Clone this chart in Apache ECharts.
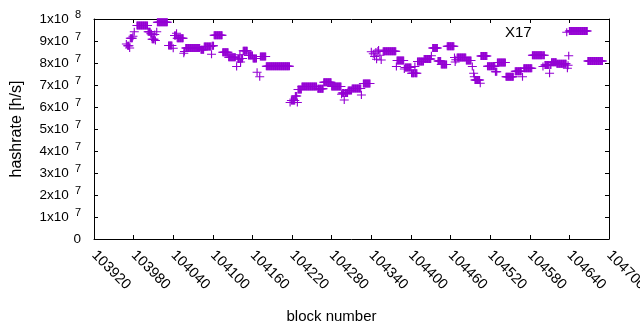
<!DOCTYPE html>
<html><head><meta charset="utf-8">
<script src="https://cdn.jsdelivr.net/npm/echarts@6/dist/echarts.min.js"></script>
<style>html,body{margin:0;padding:0;background:#fff}#c{width:640px;height:330px}</style>
</head><body><div id="c"></div>
<script>
const seriesName = 'X17';
const xAxisTitle = 'block number';
const yAxisTitle = 'hashrate [h/s]';
const xMin = 103920, xMax = 104700, xStep = 60;
const yTickLabels = ['0','1x10^7','2x10^7','3x10^7','4x10^7','5x10^7','6x10^7','7x10^7','8x10^7','9x10^7','1x10^8'];
// Runs of consecutive blocks sharing one hashrate value (first block, last block, hashrate)
const runStart = [103969,103971,103974,103975,103979,103981,103985,104002,104006,104008,104012,104013,104015,104016,104033,104040,104042,104045,104046,104056,104057,104059,104082,104087,104098,104099,104102,104115,104124,104136,104138,104141,104142,104143,104146,104154,104161,104167,104171,104172,104181,104217,104219,104225,104228,104229,104235,104259,104268,104280,104295,104296,104299,104300,104305,104311,104325,104328,104340,104343,104345,104347,104348,104350,104351,104353,104355,104358,104378,104379,104390,104391,104401,104406,104407,104410,104420,104431,104433,104441,104446,104455,104466,104467,104468,104470,104484,104493,104495,104496,104497,104505,104506,104516,104528,104531,104544,104558,104569,104571,104584,104600,104601,104603,104610,104611,104613,104621,104636,104637,104638,104639,104640,104668];
const runEnd   = [103969,103973,103974,103978,103979,103981,104001,104005,104007,104011,104012,104013,104015,104031,104038,104040,104044,104045,104055,104056,104057,104080,104086,104097,104098,104101,104114,104123,104134,104136,104140,104141,104142,104145,104152,104160,104166,104167,104171,104180,104216,104217,104224,104227,104228,104234,104257,104267,104279,104294,104295,104298,104299,104304,104310,104324,104325,104338,104340,104343,104345,104347,104348,104350,104351,104353,104355,104377,104378,104389,104390,104400,104405,104406,104409,104419,104430,104431,104440,104445,104454,104465,104466,104467,104468,104483,104491,104493,104495,104496,104504,104505,104515,104527,104530,104543,104555,104567,104569,104583,104599,104600,104602,104609,104610,104612,104620,104635,104636,104637,104638,104639,104667,104690];
const runValue = [8.86e7,8.78e7,8.68e7,9.12e7,9.22e7,9.42e7,9.71e7,9.42e7,9.33e7,9.08e7,9.30e7,9.02e7,9.42e7,9.85e7,8.80e7,8.67e7,9.25e7,9.35e7,9.12e7,8.44e7,8.52e7,8.68e7,8.60e7,8.75e7,8.40e7,8.78e7,9.26e7,8.49e7,8.26e7,7.84e7,8.18e7,8.38e7,8.05e7,8.20e7,8.56e7,8.34e7,8.20e7,7.58e7,7.38e7,8.30e7,7.85e7,6.21e7,6.30e7,6.50e7,6.21e7,6.80e7,6.93e7,6.83e7,7.12e7,6.93e7,6.58e7,6.64e7,6.32e7,6.64e7,6.75e7,6.84e7,6.55e7,7.07e7,8.51e7,8.42e7,8.29e7,8.50e7,8.17e7,8.55e7,8.59e7,8.35e7,8.14e7,8.53e7,7.84e7,8.11e7,7.73e7,7.80e7,7.53e7,7.84e7,7.53e7,8.07e7,8.18e7,8.33e7,8.68e7,8.09e7,7.93e7,8.76e7,8.25e7,8.05e7,8.15e7,8.25e7,8.11e7,7.84e7,7.53e7,7.38e7,7.23e7,7.08e7,8.32e7,7.85e7,7.60e7,8.02e7,7.38e7,7.62e7,7.38e7,7.76e7,8.35e7,7.84e7,8.35e7,7.91e7,7.53e7,7.91e7,8.03e7,7.97e7,9.40e7,7.76e7,7.90e7,8.33e7,9.45e7,8.09e7];

const points = [];
for (let i = 0; i < runStart.length; i++) {
  for (let b = runStart[i]; b <= runEnd[i]; b++) points.push([b, runValue[i]]);
}

const FONT = '"Liberation Sans", Arial, sans-serif';
const COLOR = '#9400d3';
const plusPath = 'path://M0,3.5H8V4.5H0Z M3.5,0H4.5V8H3.5Z';

function yFmt(v) {
  const lab = yTickLabels[Math.round(v / 1e7)];
  if (lab === undefined) return '';
  const p = lab.split('^');
  if (p.length === 1) return '{m|' + p[0] + '}';
  return '{m|' + p[0] + '}{s|' + p[1] + '}';
}

const chart = echarts.init(document.getElementById('c'), null, {renderer: 'canvas'});
const axisLineStyle = {color: '#000', width: 1};
chart.setOption({
  animation: false,
  backgroundColor: '#fff',
  textStyle: {fontFamily: FONT},
  title: {text: seriesName, left: 505, top: 25, padding: 0,
    textStyle: {fontFamily: FONT, fontSize: 15, fontWeight: 'normal', color: '#000'}},
  grid: {left: 94, right: 31, top: 19, bottom: 91, containLabel: false, outerBoundsMode: 'none'},
  xAxis: [{
    type: 'value', min: xMin, max: xMax, interval: xStep, position: 'bottom',
    name: xAxisTitle, nameLocation: 'middle', nameGap: 70,
    nameTextStyle: {fontFamily: FONT, fontSize: 15, color: '#000', padding: [0, 40, 0, 0]},
    axisLine: {show: true, onZero: false, lineStyle: axisLineStyle},
    axisTick: {show: true, inside: true, length: 4, lineStyle: axisLineStyle},
    axisLabel: {show: true, rotate: -45, margin: 14, fontFamily: FONT, fontSize: 14.5, color: '#000',
      formatter: v => String(v)},
    splitLine: {show: false}
  }, {
    type: 'value', min: xMin, max: xMax, interval: xStep, position: 'top',
    axisLine: {show: true, onZero: false, lineStyle: axisLineStyle},
    axisTick: {show: true, inside: true, length: 4, lineStyle: axisLineStyle},
    axisLabel: {show: false}, splitLine: {show: false}
  }],
  yAxis: [{
    type: 'value', min: 0, max: 1e8, interval: 1e7, position: 'left',
    name: yAxisTitle, nameLocation: 'middle', nameGap: 69,
    nameTextStyle: {fontFamily: FONT, fontSize: 16, color: '#000'},
    axisLine: {show: true, onZero: false, lineStyle: axisLineStyle},
    axisTick: {show: true, inside: true, length: 4, lineStyle: axisLineStyle},
    axisLabel: {show: true, margin: 13, formatter: yFmt,
      rich: {
        m: {fontFamily: FONT, fontSize: 13.5, color: '#000', lineHeight: 20, verticalAlign: 'middle'},
        s: {fontFamily: FONT, fontSize: 11, color: '#000', lineHeight: 11, padding: [0, 0, 0, 6], verticalAlign: 'top'}
      }},
    splitLine: {show: false}
  }, {
    type: 'value', min: 0, max: 1e8, interval: 1e7, position: 'right',
    axisLine: {show: true, onZero: false, lineStyle: axisLineStyle},
    axisTick: {show: true, inside: true, length: 4, lineStyle: axisLineStyle},
    axisLabel: {show: false}, splitLine: {show: false}
  }],
  series: [{
    name: seriesName, type: 'scatter', xAxisIndex: 0, yAxisIndex: 0,
    data: points, symbol: plusPath, symbolSize: [9, 8],
    itemStyle: {color: COLOR, opacity: 1},
    emphasis: {disabled: true}, silent: true, large: false
  }]
});
</script>
</body></html>
